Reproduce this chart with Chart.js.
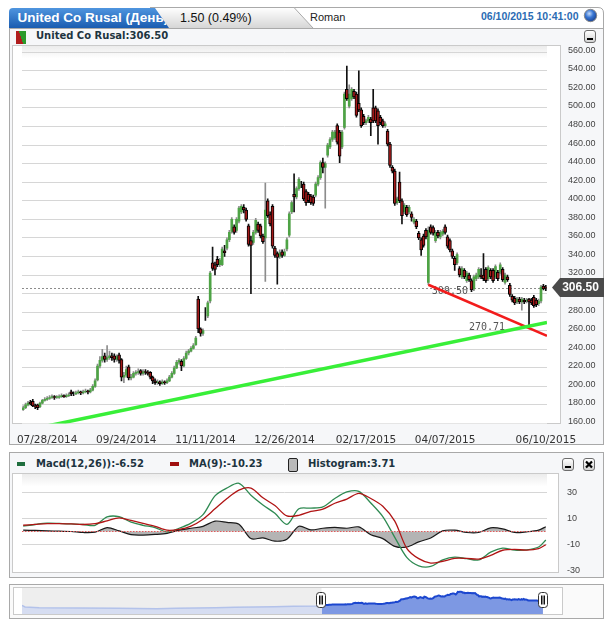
<!DOCTYPE html>
<html>
<head>
<meta charset="utf-8">
<script src="https://cdn.jsdelivr.net/npm/chart.js@4.4.0/dist/chart.umd.min.js"></script>
<style>
body{margin:0;background:#fff;width:613px;height:627px;position:relative;overflow:hidden;font-family:"Liberation Sans",Arial,sans-serif}
.abs{position:absolute}
.panel{position:absolute;box-sizing:border-box;border:1px solid #a9a9a9;background:#f6f7f9}
.inner{position:absolute;box-sizing:border-box;border:1px solid #cacaca;background:#fff}
.lbl{position:absolute;font:bold 10px "DejaVu Sans";line-height:12px;color:#1d3440;white-space:nowrap}
.btn{position:absolute;box-sizing:border-box;width:12px;height:13px;border:1px solid #6c6c6c;border-radius:3px;background:linear-gradient(#ffffff,#d2d2d2)}
.btn i{position:absolute;left:2px;bottom:2px;width:6px;height:2px;background:#000}
canvas{position:absolute}
</style>
</head>
<body>
<svg class="abs" style="left:0;top:0" width="613" height="30">
  <defs>
    <linearGradient id="gb" x1="0" y1="0" x2="0" y2="1"><stop offset="0" stop-color="#4f95df"/><stop offset="1" stop-color="#1a5cb0"/></linearGradient>
    <linearGradient id="gg" x1="0" y1="0" x2="0" y2="1"><stop offset="0" stop-color="#ffffff"/><stop offset="1" stop-color="#d6d6d6"/></linearGradient>
    <radialGradient id="sph" cx="0.4" cy="0.35" r="0.7"><stop offset="0" stop-color="#c6dcfb"/><stop offset="0.45" stop-color="#3a77d4"/><stop offset="1" stop-color="#163d8c"/></radialGradient>
    <clipPath id="cb"><path d="M9 28V12Q9 8 13 8H155L169 28Z"/></clipPath>
  </defs>
  <path d="M150 7.5H598Q603.5 7.5 603.5 13V28" fill="none" stroke="#a9a9a9"/>
  <path d="M150 7.5H294L313 28H150Z" fill="url(#gg)"/>
  <path d="M150 7.5H294L313 28" fill="none" stroke="#a9a9a9"/>
  <path d="M9 28V12Q9 8 13 8H155L169 28Z" fill="url(#gb)"/>
  <text x="17.5" y="22" clip-path="url(#cb)" font-family="Liberation Sans" font-weight="bold" font-size="13.5" fill="#fff">United Co Rusal (День)</text>
  <text id="chg" x="180" y="22" font-family="Liberation Sans" font-size="12.5" fill="#111">1.50 (0.49%)</text>
  <text x="310" y="21" font-family="Liberation Sans" font-size="11" fill="#222">Roman</text>
  <text x="578.5" y="20" text-anchor="end" font-family="Liberation Sans" font-weight="bold" font-size="10.5" fill="#2b6cb3">06/10/2015 10:41:00</text>
  <circle cx="590.5" cy="15.5" r="6.2" fill="url(#sph)" stroke="#8a8a8a"/>
</svg>

<!-- main price panel -->
<div class="panel" style="left:9px;top:28px;width:595px;height:417px"></div>
<div class="inner" style="left:12px;top:45px;width:549px;height:379px"></div>
<div class="abs" style="left:16px;top:31px;width:10px;height:13px;background:linear-gradient(70deg,#b01e1e 50%,#2b9a2b 50%)"></div>
<div class="lbl" id="title" style="left:36px;top:30px">United Co Rusal:306.50</div>
<div class="btn" style="left:584px;top:30px"><i></i></div>
<canvas id="main" width="592" height="399" style="left:12px;top:45px;width:592px;height:399px"></canvas>

<!-- macd panel -->
<div class="panel" style="left:9px;top:452px;width:595px;height:126px"></div>
<div class="inner" style="left:12px;top:473px;width:547px;height:100px"></div>
<div class="abs" style="left:17px;top:462px;width:8px;height:4px;background:#1f6e3e"></div>
<div class="lbl" id="lgM" style="left:36px;top:458px"></div>
<div class="abs" style="left:170px;top:462px;width:9px;height:4px;background:#a00f0f"></div>
<div class="lbl" id="lgS" style="left:189px;top:458px"></div>
<div class="abs" style="left:288px;top:458px;width:10px;height:14px;box-sizing:border-box;border:1px solid #222;border-radius:2px;background:#b9b9b9"></div>
<div class="lbl" id="lgH" style="left:308px;top:458px"></div>
<div class="btn" style="left:562px;top:458px"><i></i></div>
<div class="btn" style="left:583px;top:458px"><svg width="10" height="11" style="position:absolute;left:0;top:0"><path d="M2 2.5L8 8.5M8 2.5L2 8.5" stroke="#000" stroke-width="2.2"/></svg></div>
<canvas id="macd" width="592" height="105" style="left:12px;top:473px;width:592px;height:105px"></canvas>

<!-- navigator -->
<div class="panel" style="left:9px;top:584px;width:595px;height:35px;background:#fafafa"></div>
<div class="inner" style="left:13px;top:587px;width:550px;height:28px"></div>
<canvas id="nav" width="550" height="27" style="left:13px;top:587px;width:550px;height:27px"></canvas>

<script>
// дневные свечи (индекс = торговый день)
const opens = [
175,177,180,183,184,179,180,178,182,185,
186,187,188,189,188,188,189,190,189,190,
194,192,192,193,194,193,194,195,194,196,
200,207,222,228,233,229,231,233,233,229,
234,229,210,212,221,209,210,214,215,217,
214,216,215,215,210,206,204,205,203,205,
204,206,210,214,220,226,227,222,230,236,
238,241,245,294,262,257,278,276,292,333,
331,337,331,331,346,349,358,367,372,368,
378,388,393,390,373,357,355,366,375,373,
362,360,400,385,394,349,343,340,345,341,
348,363,388,407,404,413,418,418,410,407,
405,404,406,418,425,441,436,449,458,466,
468,481,474,458,479,520,502,510,518,515,
505,498,491,484,486,488,500,500,497,490,
486,481,475,461,436,432,398,420,400,388,
393,388,386,377,378,365,358,362,368,312,
372,371,357,366,361,364,372,361,357,346,
338,333,327,318,325,314,320,314,305,316,
318,320,320,326,316,325,325,318,323,323,
326,312,318,309,297,295,291,294,291,293,
292,294,293,296,293,289,292,308,307];
const highs = [
179,182,184,185,186,181,181,183,186,188,
189,190,191,190,190,191,192,191,192,193,
196,194,195,196,195,196,197,196,198,202,
208,224,232,240,236,244,238,236,235,234,
236,230,215,222,223,213,216,217,219,218,
218,218,217,216,211,208,207,206,207,206,
208,212,216,222,228,230,229,232,238,240,
243,246,254,297,263,262,285,292,324,350,
334,340,338,350,352,360,368,382,374,382,
394,396,396,392,375,362,368,381,377,375,
364,419,402,388,396,351,345,347,347,348,
360,388,400,429,415,425,421,420,412,409,
407,406,420,427,443,446,442,462,468,476,
476,483,476,476,517,545,525,522,520,517,
540,500,493,488,492,490,520,502,499,492,
488,485,477,463,438,434,404,431,402,397,
395,395,388,382,380,367,360,364,370,372,
374,373,368,368,368,369,374,363,359,348,
340,344,329,329,327,324,322,316,320,322,
328,327,343,328,330,327,327,331,325,333,
328,322,320,311,299,297,296,296,296,295,
295,295,295,298,295,294,309,310,309];
const lows = [
174,176,179,180,178,176,175,177,181,184,
185,186,187,186,187,187,188,188,188,189,
190,190,191,192,191,192,193,192,193,195,
199,206,220,226,226,227,229,228,226,227,
225,206,204,210,207,207,209,212,213,212,
212,213,212,208,203,202,202,201,202,202,
203,205,209,213,219,224,217,221,229,234,
237,240,244,258,254,255,271,274,290,325,
320,329,329,330,340,347,356,365,364,366,
376,386,387,378,351,300,353,364,366,360,
354,313,382,373,349,339,310,338,339,340,
346,361,386,388,402,411,414,400,395,398,
396,395,404,416,423,430,392,447,456,464,
466,461,441,456,477,508,500,508,510,490,
496,479,482,482,484,470,484,484,461,482,
479,479,459,436,430,395,396,398,375,386,
383,386,378,375,370,358,341,350,359,309.5,
364,363,355,360,359,362,364,349,345,338,
325,331,318,316,316,312,313,302,303,314,
316,316,314,312,314,316,312,316,314,321,
313,310,313,297,291,288,289,289,282,289,
290,265,288,285,286,287,290,304,303];
const closes = [
177,180,182,181,179,178,177,182,185,186,
187,188,189,188,189,189,190,189,190,191,
192,192,193,194,193,194,195,194,196,200,
206,222,228,232,229,231,233,231,229,232,
228,210,212,218,209,210,214,215,216,214,
216,215,214,210,206,204,205,203,205,204,
206,210,214,220,226,228,222,230,236,238,
241,244,252,262,257,260,278,290,322,327,
326,331,336,348,344,358,366,380,366,380,
392,394,390,380,353,352,366,379,368,362,
356,390,384,375,351,341,339,344,341,345,
358,386,398,404,413,423,418,402,398,400,
398,397,418,425,441,436,440,460,466,474,
474,463,448,474,515,510,515,520,512,492,
498,481,484,486,490,484,486,486,481,484,
481,483,461,438,432,397,402,400,384,395,
385,393,382,380,372,360,347,352,361,368,
366,365,366,362,366,367,366,351,347,340,
331,342,320,327,318,322,315,304,318,320,
326,318,316,314,328,318,314,329,316,331,
315,320,315,299,293,290,294,291,294,291,
293,291,290,287,288,292,307,305,306.5];

// подписи оси X
const dateIdx = [10, 43, 76, 109, 143, 176, 218];
const dateLabels = ['07/28/2014','09/24/2014','11/11/2014','12/26/2014','02/17/2015','04/07/2015','06/10/2015'];
const priceTicks = [160,180,200,220,240,260,280,300,320,340,360,380,400,420,440,460,480,500,520,540,560];

// линии тренда и подписи
const greenTrend = [[0, 152], [218.5, 268.8]];
const redTrend = [[169, 309.5], [218.5, 254.5]];
const notes = [['309.50', 178, 302], ['270.71', 193.5, 263.3]];

// MACD
const macdIdx = [0,5,10,15,20,25,30,35,40,45,50,55,60,65,70,75,80,85,90,95,100,105,110,115,120,125,130,135,140,145,150,155,160,165,170,175,180,185,190,195,200,205,210,215,218];
const macdLine = [4.1,5.4,6.4,6.2,5.8,5.4,4.8,11.2,11.4,7.2,
 4.8,3.0,-0.3,2.5,6.5,13,27.5,33.6,37.2,28,
 20.5,14,5.5,17.5,18,19,25.5,30.5,31,22,
 11.5,-4.5,-20,-26.5,-27,-22,-19.8,-21,-22,-16,
 -12.8,-14.4,-14.2,-12,-6.52];
const signalLine = [4.8,5.5,6.1,6.0,5.8,5.4,6.0,8.2,10.5,8.5,
 6.3,4.0,1.0,1.6,4.2,9.5,17.5,25.5,32,33.5,
 26,20,12,12.5,15.5,17.2,21.8,25,29.5,25.5,
 19.5,8,-13,-21,-24.4,-23,-20.8,-20.8,-21.3,-18.5,
 -14.5,-13.8,-14.4,-13.2,-10.23];
const histLine = [1.0,0.8,0.5,0.2,0,-0.8,-0.5,3.0,0.5,-2.5,
 -2.8,-2.3,-1.4,1.0,2.5,4.0,8.0,7.0,5.5,-5.5,
 -5.0,-7.5,-6.0,4.0,1.2,2.5,3.2,2.5,3.5,-2.5,
 -5.5,-11.5,-12.0,-8.0,-5.0,0.5,1.0,-0.8,-0.8,2.8,
 2.0,-0.8,-0.3,1.0,3.71];
const macdTicks = [-30, -10, 10, 30];

// навигатор: история до выбранного периода
const navIdx = [-296,-293,-279,-241,-201,-163,-144,-124,-105,-86,-66,-47,-28,-4];
const navHist = [169,126,108,100,92,83,92,100,108,117,126,134,142,151];

const N = closes.length;
const XMIN = -0.5, XMAX = N - 0.5;
const idx = [...Array(N).keys()];
const isUp = i => closes[i] > opens[i];
const last = closes[N - 1];

// тексты
const chg = last - closes[N - 2];
document.getElementById('chg').textContent = chg.toFixed(2) + ' (' + (chg / closes[N - 2] * 100).toFixed(2) + '%)';
document.getElementById('title').textContent = 'United Co Rusal:' + last.toFixed(2);
document.getElementById('lgM').textContent = 'Macd(12,26)):' + macdLine[macdLine.length - 1];
document.getElementById('lgS').textContent = 'MA(9):' + signalLine[signalLine.length - 1];
document.getElementById('lgH').textContent = 'Histogram:' + histLine[histLine.length - 1];

function plotBg(ch) {
    const {ctx, chartArea: a} = ch;
    ctx.save();
    ctx.fillStyle = '#fff';
    ctx.fillRect(a.left, a.top, a.width, a.height);
    const g = ctx.createLinearGradient(0, 1, 0, a.top + 8);
    g.addColorStop(0, '#ececec');
    g.addColorStop(1, 'rgba(236,236,236,0)');
    ctx.fillStyle = g;
    ctx.fillRect(a.left, 1, a.width, a.top + 7);
    ctx.restore();
}

// ось справа: отступ подписи через длину (невидимых) рисок, иначе chart.js сжимает область
const rightAxis = (ticks, pad) => ({
    position: 'right',
    grid: {color: c => c.tick.value === ticks[0] ? 'rgba(0,0,0,0)' : '#d6d6d6',
           drawTicks: true, tickLength: pad, tickColor: 'rgba(0,0,0,0)'},
    border: {display: false},
    afterBuildTicks: s => { s.ticks = ticks.map(v => ({value: v})); },
    afterFit: s => { s.width = 57; }
});

const mainDeco = {
    id: 'mainDeco',
    beforeDraw: plotBg,
    beforeDatasetsDraw(ch) {
        const {ctx, chartArea: a, scales} = ch;
        const y = Math.round(scales.y.getPixelForValue(last)) + 0.5;
        ctx.save();
        ctx.strokeStyle = '#8c8c8c';
        ctx.lineWidth = 1;
        ctx.setLineDash([2, 2]);
        ctx.beginPath(); ctx.moveTo(a.left, y); ctx.lineTo(a.right, y); ctx.stroke();
        ctx.setLineDash([]);
        ctx.font = '10px "DejaVu Sans Mono"';
        ctx.fillStyle = '#555';
        ctx.textAlign = 'center';
        ctx.textBaseline = 'middle';
        notes.forEach(n => ctx.fillText(n[0], scales.x.getPixelForValue(n[1]), scales.y.getPixelForValue(n[2])));
        ctx.restore();
    },
    afterDraw(ch) {
        const {ctx, chartArea: a, scales} = ch;
        const y = scales.y.getPixelForValue(last);
        const x0 = a.right + 5, x1 = a.right + 13, x2 = ch.width;
        ctx.save();
        ctx.fillStyle = '#4a4a4a';
        ctx.beginPath();
        ctx.moveTo(x0, y);
        ctx.lineTo(x1, y - 9.5); ctx.lineTo(x2, y - 9.5); ctx.lineTo(x2, y + 9.5); ctx.lineTo(x1, y + 9.5);
        ctx.closePath(); ctx.fill();
        ctx.fillStyle = '#fff';
        ctx.font = 'bold 12px "Liberation Sans"';
        ctx.textAlign = 'center';
        ctx.textBaseline = 'middle';
        ctx.fillText(last.toFixed(2), a.right + 33.5, y + 0.5);
        ctx.restore();
    }
};

new Chart(document.getElementById('main'), {
    type: 'bar',
    data: {
        datasets: [
            {type: 'line', data: greenTrend.map(p => ({x: p[0], y: p[1]})), borderColor: '#38ef38', borderWidth: 3.5, pointRadius: 0, order: 0},
            {type: 'line', data: redTrend.map(p => ({x: p[0], y: p[1]})), borderColor: '#f21c1c', borderWidth: 2.5, pointRadius: 0, order: 0},
            {data: idx.filter(i => !isUp(i)).map(i => ({x: i, y: [closes[i], opens[i]]})),
             backgroundColor: '#a41a1a', borderColor: '#000', borderWidth: 1, borderSkipped: false, barThickness: 3, grouped: false, order: 1},
            {data: idx.filter(isUp).map(i => ({x: i, y: [opens[i], closes[i]]})),
             backgroundColor: '#4ea345', borderWidth: 0, barThickness: 2, grouped: false, order: 1},
            {data: idx.filter(i => !isUp(i)).map(i => ({x: i, y: [lows[i], highs[i]]})),
             backgroundColor: '#111', barThickness: 1, grouped: false, order: 2},
            {data: idx.filter(isUp).map(i => ({x: i, y: [lows[i], highs[i]]})),
             backgroundColor: '#8c8c8c', barThickness: 1, grouped: false, order: 2}
        ]
    },
    options: {
        responsive: false,
        animation: false,
        layout: {padding: {left: 10, top: 5, right: 0, bottom: 0}},
        plugins: {legend: {display: false}, tooltip: {enabled: false}},
        scales: {
            x: {
                type: 'linear', min: XMIN, max: XMAX, offset: false,
                grid: {display: false}, border: {display: false},
                afterBuildTicks: s => { s.ticks = dateIdx.map(v => ({value: v})); },
                afterFit: s => { s.height = 20.5; },
                ticks: {autoSkip: false, maxRotation: 0, padding: 2, color: '#333',
                        font: {family: 'DejaVu Sans', size: 10.5},
                        callback: (v, k) => dateLabels[k]}
            },
            y: Object.assign(rightAxis(priceTicks, 21), {
                min: 160, max: 562,
                ticks: {padding: 0, color: '#444', labelOffset: -2,
                        font: {family: 'Liberation Sans', size: 9},
                        callback: v => v.toFixed(2)}
            })
        }
    },
    plugins: [mainDeco]
});

// MACD
const macdDeco = {
    id: 'macdDeco',
    beforeDraw: plotBg,
    afterDatasetsDraw(ch) {
        const {ctx, chartArea: a, scales} = ch;
        const y = Math.round(scales.y.getPixelForValue(0)) + 0.5;
        ctx.save();
        ctx.strokeStyle = '#e25a5a';
        ctx.lineWidth = 1;
        ctx.setLineDash([1.5, 1.5]);
        ctx.beginPath(); ctx.moveTo(a.left, y); ctx.lineTo(a.right, y); ctx.stroke();
        ctx.restore();
    }
};
const pts = arr => macdIdx.map((x, k) => ({x, y: arr[k]}));
new Chart(document.getElementById('macd'), {
    type: 'line',
    data: {
        datasets: [
            {data: pts(signalLine), borderColor: '#b01414', borderWidth: 1.3, pointRadius: 0, tension: 0.3, order: 0},
            {data: pts(macdLine), borderColor: '#2f8a52', borderWidth: 1.3, pointRadius: 0, tension: 0.3, order: 1},
            {data: pts(histLine), borderColor: '#1a1a1a', borderWidth: 1.2, backgroundColor: '#b4b4b4', fill: {value: 0}, pointRadius: 0, tension: 0.3, order: 2}
        ]
    },
    options: {
        responsive: false,
        animation: false,
        layout: {padding: {left: 10, top: 5, right: 0, bottom: 6}},
        plugins: {legend: {display: false}, tooltip: {enabled: false}},
        scales: {
            x: {type: 'linear', display: false, min: XMIN, max: XMAX},
            y: Object.assign(rightAxis(macdTicks, 20), {
                min: -31.3, max: 41,
                ticks: {padding: 0, color: '#444', font: {family: 'Liberation Sans', size: 9}}
            })
        }
    },
    plugins: [macdDeco]
});

// навигатор
const navDeco = {
    id: 'navDeco',
    beforeDatasetsDraw(ch) {
        const {ctx, chartArea: a, scales} = ch;
        ctx.save();
        ctx.fillStyle = '#eeeeee';
        ctx.fillRect(a.left, a.top, scales.x.getPixelForValue(XMIN) - a.left, a.height);
        ctx.restore();
    },
    afterDraw(ch) {
        const {ctx, scales} = ch;
        const cy = 13;
        [XMIN, XMAX].forEach(v => {
            const cx = Math.round(scales.x.getPixelForValue(v));
            ctx.save();
            ctx.fillStyle = '#fff';
            ctx.strokeStyle = '#333';
            ctx.lineWidth = 1;
            ctx.beginPath();
            ctx.roundRect(cx - 4.5, cy - 7.5, 9, 15, 3);
            ctx.fill(); ctx.stroke();
            ctx.fillStyle = '#111';
            ctx.fillRect(cx - 2, cy - 4.5, 1.5, 9);
            ctx.fillRect(cx + 0.5, cy - 4.5, 1.5, 9);
            ctx.restore();
        });
    }
};
new Chart(document.getElementById('nav'), {
    type: 'line',
    data: {
        datasets: [
            {data: idx.map(i => ({x: i, y: closes[i]})), borderColor: '#1c47cf', borderWidth: 2,
             backgroundColor: '#7d98e3', fill: 'start', pointRadius: 0, order: 0},
            {data: navIdx.map((x, k) => ({x, y: navHist[k]})).concat([{x: 0, y: closes[0]}]), borderColor: '#b3c2ea', borderWidth: 1.5,
             backgroundColor: '#d6ddf1', fill: 'start', pointRadius: 0, order: 1}
        ]
    },
    options: {
        responsive: false,
        animation: false,
        layout: {padding: {left: 9, top: 1, right: 15, bottom: 0}},
        plugins: {legend: {display: false}, tooltip: {enabled: false}},
        scales: {
            x: {type: 'linear', display: false, min: -296, max: 223},
            y: {display: false, min: -54, max: 614}
        }
    },
    plugins: [navDeco]
});
</script>
</body>
</html>
